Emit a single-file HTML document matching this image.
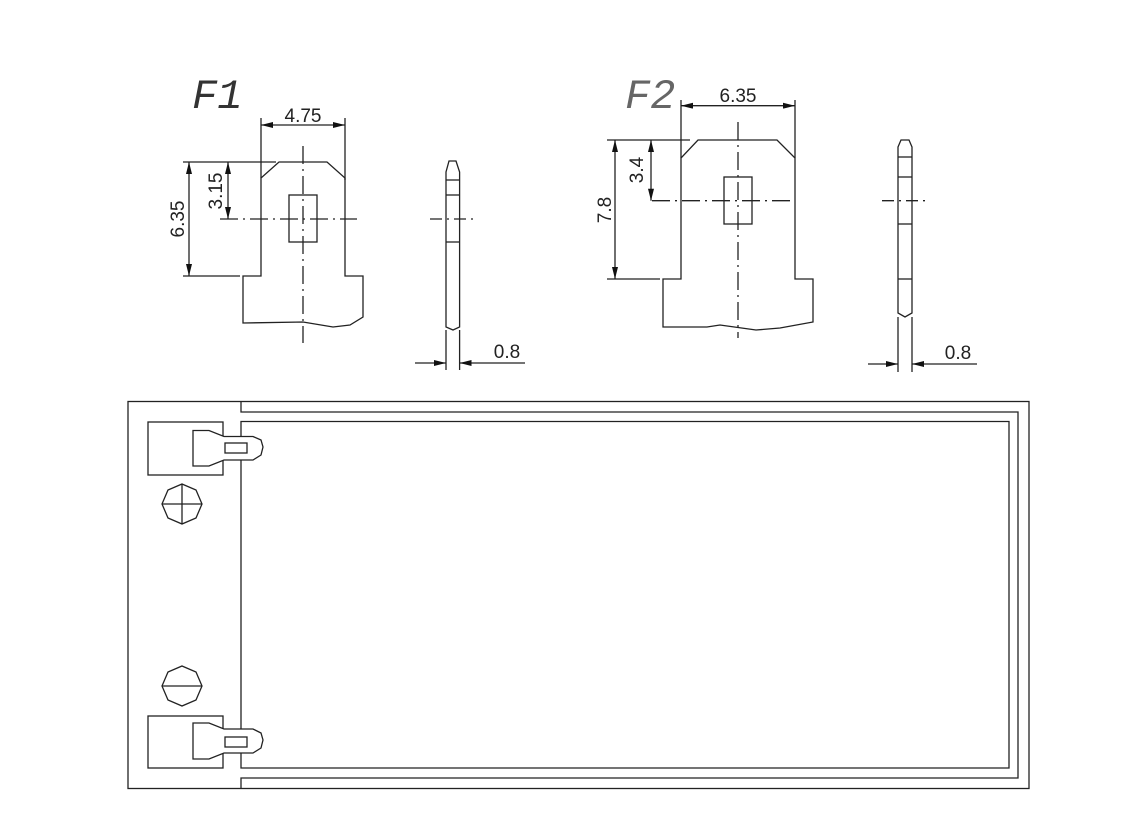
<!DOCTYPE html>
<html><head><meta charset="utf-8"><style>
html,body{margin:0;padding:0;background:#fff;}
svg{display:block;}
text{font-family:"Liberation Sans",sans-serif;fill:#222;}
</style></head><body>
<svg width="1124" height="826" viewBox="0 0 1124 826" xmlns="http://www.w3.org/2000/svg">
<defs>
<marker id="a" viewBox="0 0 12 6" refX="12" refY="3" markerWidth="12" markerHeight="6" markerUnits="userSpaceOnUse" orient="auto-start-reverse"><path d="M0,0 L12,3 L0,6 z" fill="#111"/></marker>
</defs>
<g fill="none" stroke="#222" stroke-width="1.3">
<!-- F1 -->
<text x="192" y="108" style="font-family:'Liberation Mono',monospace;font-style:italic;font-size:42px;fill:#333" stroke="none">F1</text>
<line x1="261" y1="118" x2="261" y2="178"/><line x1="345" y1="118" x2="345" y2="180"/>
<line x1="261" y1="125" x2="345" y2="125" marker-start="url(#a)" marker-end="url(#a)"/>
<text x="303" y="122" font-size="19" text-anchor="middle" stroke="none">4.75</text>
<path d="M279,162 L327,162 L345,178 L345,276 L363,276 L363,317 L350,325 L333,327 L303,322 L243,323 L243,276 L261,276 L261,178 Z"/>
<rect x="289" y="195" width="28" height="47"/>
<line x1="220" y1="219" x2="357" y2="219" stroke-dasharray="18,5,2,5"/>
<line x1="303" y1="146" x2="303" y2="343" stroke-dasharray="18,5,2,5"/>
<line x1="183" y1="162" x2="276" y2="162"/><line x1="183" y1="276" x2="240" y2="276"/>
<line x1="189" y1="162" x2="189" y2="276" marker-start="url(#a)" marker-end="url(#a)"/>
<line x1="228" y1="162" x2="228" y2="219" marker-start="url(#a)" marker-end="url(#a)"/>
<text transform="translate(184,219) rotate(-90)" font-size="19" text-anchor="middle" stroke="none">6.35</text>
<text transform="translate(222,191) rotate(-90)" font-size="19" text-anchor="middle" stroke="none">3.15</text>
<!-- F1 side -->
<path d="M449,161 L456,161 L459.6,172 L459.6,327 L453,330 L446,327 L446,172 Z"/>
<line x1="446" y1="180" x2="459.6" y2="180"/><line x1="446" y1="195" x2="459.6" y2="195"/><line x1="446" y1="242" x2="459.6" y2="242"/>
<line x1="430" y1="219" x2="475" y2="219" stroke-dasharray="12,5,2,5"/>
<line x1="446" y1="330" x2="446" y2="370"/><line x1="459.6" y1="330" x2="459.6" y2="370"/>
<line x1="415" y1="363" x2="446" y2="363" marker-end="url(#a)"/>
<line x1="525" y1="363" x2="459.6" y2="363" marker-end="url(#a)"/>
<text x="507" y="358" font-size="19" text-anchor="middle" stroke="none">0.8</text>
<!-- F2 -->
<text x="625" y="108" style="font-family:'Liberation Mono',monospace;font-style:italic;font-size:42px;fill:#666" stroke="none">F2</text>
<line x1="681" y1="100" x2="681" y2="158"/><line x1="795" y1="100" x2="795" y2="158"/>
<line x1="681" y1="105.7" x2="795" y2="105.7" marker-start="url(#a)" marker-end="url(#a)"/>
<text x="738" y="102" font-size="19" text-anchor="middle" stroke="none">6.35</text>
<path d="M698,140 L777,140 L795,158 L795,279 L813,279 L813,322 L780,328 L756,330 L720,325 L707,327 L663,327 L663,279 L681,279 L681,158 Z"/>
<rect x="724" y="177" width="28" height="47"/>
<line x1="652" y1="200.7" x2="795" y2="200.7" stroke-dasharray="18,5,2,5"/>
<line x1="738" y1="122" x2="738" y2="338" stroke-dasharray="18,5,2,5"/>
<line x1="607" y1="140" x2="690" y2="140"/><line x1="607" y1="279" x2="660" y2="279"/>
<line x1="615" y1="140" x2="615" y2="279" marker-start="url(#a)" marker-end="url(#a)"/>
<line x1="651" y1="140" x2="651" y2="200.7" marker-start="url(#a)" marker-end="url(#a)"/>
<text transform="translate(611,210) rotate(-90)" font-size="19" text-anchor="middle" stroke="none">7.8</text>
<text transform="translate(643,170) rotate(-90)" font-size="19" text-anchor="middle" stroke="none">3.4</text>
<!-- F2 side -->
<path d="M901,140 L909,140 L912,147 L912,313 L905,317 L898,313 L898,147 Z"/>
<line x1="898" y1="157" x2="912" y2="157"/><line x1="898" y1="177" x2="912" y2="177"/><line x1="898" y1="224" x2="912" y2="224"/><line x1="898" y1="279" x2="912" y2="279"/>
<line x1="882" y1="200.7" x2="928" y2="200.7" stroke-dasharray="12,5,2,5"/>
<line x1="898" y1="317" x2="898" y2="372"/><line x1="912" y1="317" x2="912" y2="372"/>
<line x1="868" y1="364" x2="898" y2="364" marker-end="url(#a)"/>
<line x1="977" y1="364" x2="912" y2="364" marker-end="url(#a)"/>
<text x="958" y="359" font-size="19" text-anchor="middle" stroke="none">0.8</text>
<!-- bottom box -->
<rect x="128" y="401.5" width="901" height="387"/>
<path d="M241,401.5 L241,412 L1018,412 L1018,778 L241,778 L241,788.5"/>
<path d="M241,421.5 L1009,421.5 L1009,768 L241,768 Z"/>
<!-- top terminal -->
<rect x="148" y="422" width="75" height="53"/>
<path d="M193,430.5 L209,430.5 L224,436.5 L253,436.5 L261,440 L263,447 L261,455 L253,460 L224,460 L209,466 L193,466 Z" fill="#fff"/>
<rect x="225" y="443" width="22" height="10"/>
<polygon points="182,484 196,490 202,504 196,518 182,524 168,518 162,504 168,490"/>
<line x1="162" y1="504" x2="202" y2="504"/><line x1="182" y1="484" x2="182" y2="524"/>
<!-- bottom terminal -->
<rect x="148" y="716" width="75" height="52"/>
<path d="M193,723 L209,723 L224,729 L253,729 L261,733 L263,740 L261,748 L253,753 L224,753 L209,759 L193,759 Z" fill="#fff"/>
<rect x="225" y="737" width="22" height="10"/>
<polygon points="182,666 196,672 202,686 196,700 182,706 168,700 162,686 168,672"/>
<line x1="162" y1="686" x2="202" y2="686"/>
</g>
</svg>
</body></html>
